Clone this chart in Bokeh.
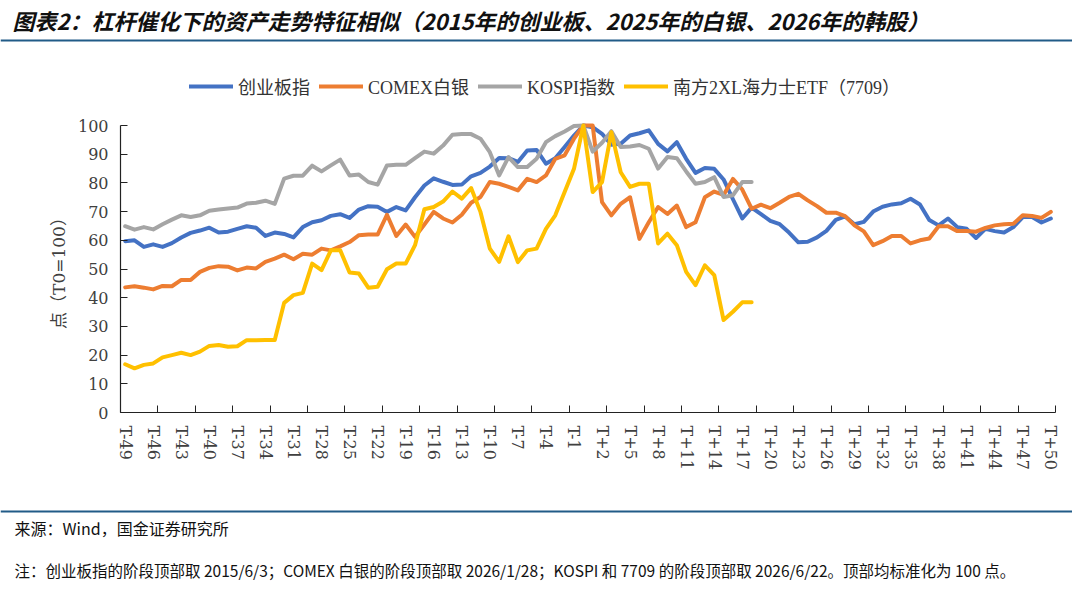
from bokeh.plotting import figure
from bokeh.models import (Range1d, FixedTicker, Legend, LegendItem, Label, Span,
                          ColumnDataSource)
from bokeh.embed import file_html
from bokeh.resources import INLINE

# ---------------- data ----------------
categories = [f"T{k:+d}" if k else "T0" for k in range(-49, 51)]

chinext = [59.7, 60.0, 57.7, 58.6, 57.7, 59.0, 61.0, 62.6, 63.4, 64.4,
           62.7, 63.0, 64.0, 64.9, 64.4, 61.5, 62.7, 62.2, 61.0, 64.6,
           66.3, 67.0, 68.5, 69.1, 67.8, 70.7, 71.9, 71.7, 69.9, 71.6,
           70.4, 75.0, 79.1, 81.6, 80.4, 79.3, 79.4, 82.3, 83.5, 85.7,
           88.7, 88.6, 87.3, 91.3, 91.5, 86.7, 88.6, 92.5, 96.5, 100.0,
           99.4, 97.1, 93.3, 93.6, 96.5, 97.3, 98.3, 93.6, 91.0, 94.2,
           88.4, 83.5, 85.2, 84.9, 81.2, 74.3, 67.6, 71.4, 69.1, 66.8,
           65.6, 62.7, 59.3, 59.5, 61.0, 63.3, 67.1, 68.3, 65.6, 66.4,
           70.0, 71.7, 72.5, 72.9, 74.5, 72.5, 67.1, 65.2, 67.6, 64.6,
           64.0, 60.8, 64.0, 63.2, 62.7, 64.6, 68.1, 68.1, 66.2, 67.6]

silver = [43.6, 44.0, 43.5, 42.9, 44.1, 44.0, 46.2, 46.2, 49.0, 50.4,
          51.0, 50.8, 49.5, 50.5, 50.2, 52.5, 53.6, 55.0, 53.4, 55.3,
          55.0, 57.1, 56.5, 57.9, 59.4, 61.8, 62.0, 62.0, 68.9, 61.5,
          65.5, 61.2, 65.5, 69.9, 67.6, 66.2, 68.9, 73.1, 75.1, 80.3,
          79.7, 78.6, 77.4, 81.4, 80.3, 82.6, 88.4, 89.6, 95.4, 100.0,
          100.0, 73.3, 68.7, 72.7, 75.0, 60.5, 66.3, 71.6, 69.2, 72.1,
          64.6, 66.3, 75.0, 77.0, 75.8, 81.4, 77.7, 71.0, 72.4, 71.2,
          73.1, 75.1, 76.2, 73.9, 71.9, 69.6, 69.6, 68.4, 65.2, 63.1,
          58.3, 59.7, 61.5, 61.5, 58.9, 60.0, 60.6, 64.9, 64.9, 63.2,
          63.2, 63.0, 64.3, 65.2, 65.6, 65.8, 68.7, 68.5, 67.8, 69.9]

kospi = [64.9, 63.7, 64.6, 63.8, 65.6, 67.2, 68.7, 68.1, 68.7, 70.3,
         70.7, 71.1, 71.4, 72.8, 73.1, 73.8, 72.7, 81.5, 82.5, 82.5,
         86.0, 84.0, 86.1, 88.1, 82.6, 82.9, 80.3, 79.4, 86.1, 86.3,
         86.3, 88.6, 90.9, 90.2, 93.0, 96.8, 97.0, 97.0, 95.4, 90.7,
         82.6, 89.0, 85.5, 85.5, 88.4, 94.2, 96.3, 97.9, 99.8, 100.0,
         90.9, 94.0, 98.0, 92.5, 92.7, 93.2, 91.9, 85.0, 89.0, 88.6,
         84.0, 79.7, 80.3, 82.0, 75.1, 75.7, 80.3, 80.3]

etf7709 = [16.8, 15.4, 16.6, 17.1, 19.2, 20.0, 20.8, 20.0, 21.2, 23.2,
           23.5, 22.9, 23.1, 25.2, 25.2, 25.3, 25.3, 38.2, 40.9, 41.7,
           51.9, 49.6, 56.5, 56.5, 48.8, 48.4, 43.5, 43.8, 49.9, 51.9,
           51.9, 58.3, 70.8, 71.6, 73.5, 77.0, 74.5, 78.2, 69.9, 57.1,
           52.5, 61.4, 52.4, 56.5, 57.1, 64.0, 68.7, 76.8, 84.9, 100.0,
           76.8, 80.3, 97.7, 83.7, 78.6, 79.7, 79.7, 58.9, 62.3, 58.3,
           49.0, 44.4, 51.3, 47.9, 32.2, 35.1, 38.4, 38.4]

series_names = ["创业板指", "COMEX白银", "KOSPI指数", "南方2XL海力士ETF（7709）"]
series_values = [chinext, silver, kospi, etf7709]
series_colors = ["#4472C4", "#ED7D31", "#A5A5A5", "#FFC000"]

y_ticks = [0, 10, 20, 30, 40, 50, 60, 70, 80, 90, 100]
label_step = 3
tick_step = 4

title_text = "图表2：杠杆催化下的资产走势特征相似（2015年的创业板、2025年的白银、2026年的韩股）"
source_text = "来源：Wind，国金证券研究所"
note_text = ("注：创业板指的阶段顶部取 2015/6/3；COMEX 白银的阶段顶部取 2026/1/28；"
             "KOSPI 和 7709 的阶段顶部取 2026/6/22。顶部均标准化为 100 点。")

# ---------------- geometry (page pixels) ----------------
W, H = 1072, 596
PAGE_OFF = 0                # bokeh's page template has no body margin
AX_L, AX_R = 120, 1055      # page x of x = -0.5 and x = 99.5
AX_T, AX_B = 125, 412       # page y of y = 100 and y = 0
n = len(categories)
x0, x1 = -0.5, n - 0.5
y0, y1 = 0, 100
sx = (AX_R - AX_L) / (x1 - x0)
sy = (AX_B - AX_T) / (y1 - y0)
xr = Range1d(x0 - (AX_L - PAGE_OFF) / sx, x1 + (PAGE_OFF + W - AX_R) / sx)
yr = Range1d(y0 - (PAGE_OFF + H - AX_B) / sy, y1 + (AX_T - PAGE_OFF) / sy)


def scr_x(px):
    return px - PAGE_OFF


def scr_y(py):
    return PAGE_OFF + H - py


p = figure(width=W, height=H, output_backend="svg", toolbar_location=None,
           title_location=None, x_range=xr, y_range=yr,
           min_border_left=0, min_border_right=0, min_border_top=0, min_border_bottom=0)
p.outline_line_color = None
p.xgrid.visible = False
p.ygrid.visible = False

num_font = "DejaVu Serif"
mixed_font = "Liberation Serif, Noto Sans CJK SC"
axis_color = "#222222"

xa = p.xaxis[0]
label_pos = list(range(0, n, label_step))
xa.fixed_location = y0
xa.bounds = (x0, x1)
xa.ticker = FixedTicker(ticks=label_pos,
                        minor_ticks=[i - 0.5 for i in range(0, n + 1, tick_step)])
xa.major_label_overrides = {i: categories[i] for i in label_pos}
xa.major_label_orientation = "vertical"
xa.major_tick_in = 0
xa.major_tick_out = 0
xa.minor_tick_in = 7
xa.minor_tick_out = 0
xa.minor_tick_line_color = axis_color
xa.axis_line_color = axis_color
xa.axis_line_width = 1.2
xa.major_label_standoff = 13
xa.major_label_text_font = num_font
xa.major_label_text_font_size = "16px"
xa.major_label_text_color = "#404040"

ya = p.yaxis[0]
ya.fixed_location = x0
ya.bounds = (y0, y1)
ya.ticker = FixedTicker(ticks=y_ticks)
ya.major_tick_in = 7
ya.major_tick_out = 0
ya.minor_tick_line_color = None
ya.major_tick_line_color = axis_color
ya.axis_line_color = axis_color
ya.axis_line_width = 1.2
ya.major_label_standoff = 12
ya.major_label_text_font = num_font
ya.major_label_text_font_size = "16px"
ya.major_label_text_color = "#404040"
ya.axis_label = "点（T0=100）"
ya.axis_label_text_font = "DejaVu Serif, Noto Sans CJK SC"
ya.axis_label_text_font_size = "17px"
ya.axis_label_text_font_style = "normal"
ya.axis_label_text_color = "#404040"
ya.axis_label_standoff = 6

items = []
for name, vals, col in zip(series_names, series_values, series_colors):
    src = ColumnDataSource(dict(x=list(range(len(vals))), y=vals))
    r = p.line("x", "y", source=src, line_color=col, line_width=4,
               line_join="round", line_cap="round")
    items.append(LegendItem(label=name, renderers=[r]))

legend = Legend(items=items, orientation="horizontal",
                location=(scr_x(189), scr_y(99)),
                label_text_font=mixed_font, label_text_font_size="18px",
                label_text_color="#333333", glyph_width=44, glyph_height=20,
                label_height=20, label_standoff=5, spacing=9, padding=0, margin=0,
                border_line_color=None, background_fill_alpha=0)
p.add_layout(legend)

rule_color = "#215B87"
p.add_layout(Label(x=scr_x(12), y=scr_y(19), x_units="screen", y_units="screen",
                   text=title_text, text_font="Noto Sans CJK SC",
                   text_font_size="22px", text_font_style="bold italic",
                   text_color="#111111", text_baseline="middle", text_align="left"))
p.add_layout(Span(location=scr_y(40), location_units="screen", dimension="width",
                  line_color=rule_color, line_width=2))
p.add_layout(Span(location=scr_y(511), location_units="screen", dimension="width",
                  line_color=rule_color, line_width=2))
p.add_layout(Label(x=scr_x(14), y=scr_y(527), x_units="screen", y_units="screen",
                   text=source_text, text_font="Noto Sans CJK SC",
                   text_font_size="16px", text_color="#111111",
                   text_baseline="middle", text_align="left"))
p.add_layout(Label(x=scr_x(14), y=scr_y(569), x_units="screen", y_units="screen",
                   text=note_text, text_font="Noto Sans CJK SC",
                   text_font_size="15.5px", text_color="#111111",
                   text_baseline="middle", text_align="left"))

open("out.html", "w").write(file_html(p, INLINE))
